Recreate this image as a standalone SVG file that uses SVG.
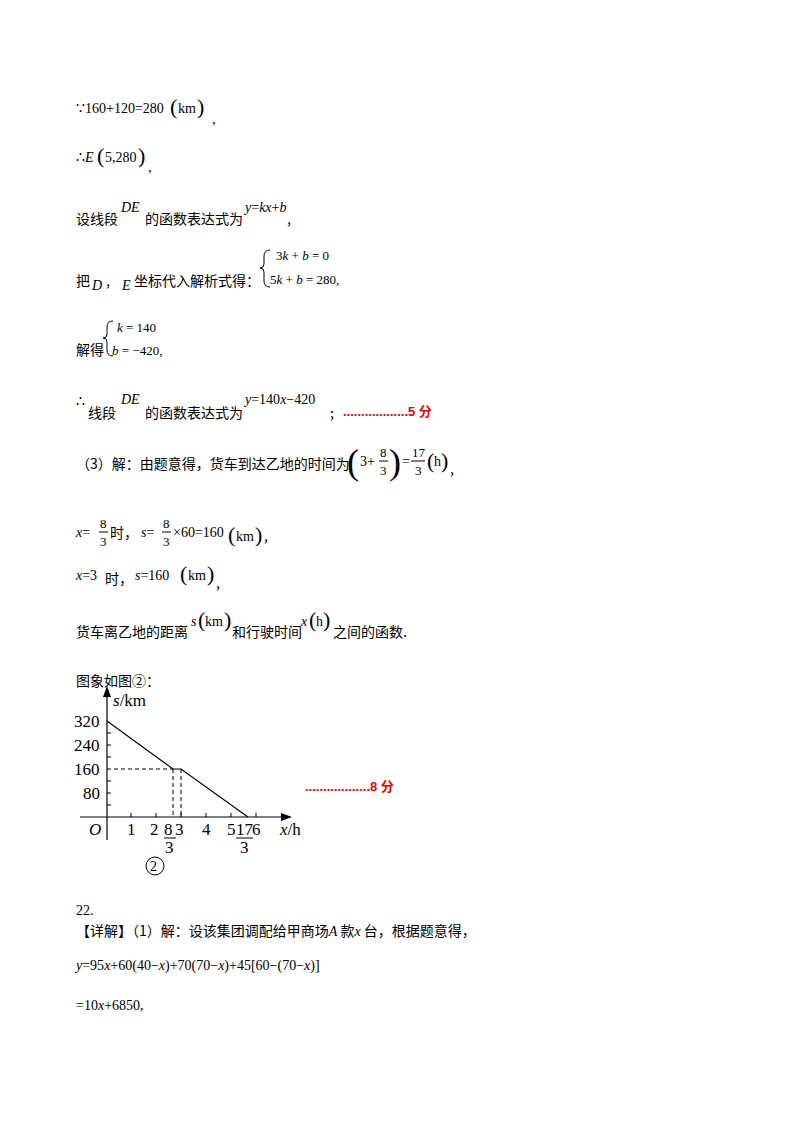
<svg xmlns="http://www.w3.org/2000/svg" width="800" height="1132" viewBox="0 0 800 1132">
<style>
.t{font-family:"Noto Sans CJK SC","Liberation Serif",serif;font-size:14px;fill:#000}
.m{font-family:"Liberation Serif",serif;font-size:14px;fill:#000}
.i{font-style:italic}
.s{font-family:"Liberation Serif",serif;font-size:13px;fill:#000}
.r{font-family:"Liberation Sans","Noto Sans CJK SC",sans-serif;font-size:13px;font-weight:bold;fill:#e00}
.g{font-family:"Liberation Serif",serif;font-size:17px;fill:#000}
.ln{stroke:#000;stroke-width:1.2;fill:none}
.d{stroke:#000;stroke-width:1;stroke-dasharray:4,3;fill:none}
.br{stroke:#000;stroke-width:1;fill:none}
.big{font-family:"Liberation Serif",serif;font-size:22px;fill:#000}
.huge{font-family:"Liberation Serif",serif;font-size:36px;fill:#000}
</style>
<rect width="800" height="1132" fill="#fff"/>
<text class="m" x="76" y="113">∵160+120=280</text><text class="big" x="170" y="114">(</text><text class="m" x="178" y="113">km</text><text class="big" x="197" y="114">)</text><text class="m" x="212" y="124">,</text>
<text class="m" x="76" y="162">∴<tspan class="i">E</tspan></text><text class="big" x="97" y="163">(</text><text class="m" x="105" y="162">5,280</text><text class="big" x="138" y="163">)</text><text class="m" x="148" y="172">,</text>
<text class="t" x="76" y="224">设线段</text><text class="m i" x="121" y="212">DE</text><text class="t" x="145" y="224">的函数表达式为</text><text class="m" x="245" y="212"><tspan class="i">y</tspan>=<tspan class="i">kx</tspan>+<tspan class="i">b</tspan></text><text class="t" x="287" y="224">,</text>
<text class="t" x="76" y="286">把</text><text class="m i" x="92" y="290">D</text><text class="t" x="106" y="286">,</text><text class="m i" x="122" y="290">E</text><text class="t" x="134" y="286">坐标代入解析式得：</text>
<path class="br" d="M270,250 Q264,250 264,256 L264,264 Q264,268 260,268 Q264,268 264,272 L264,281 Q264,287 270,287"/>
<text class="s" x="276" y="260">3<tspan class="i">k</tspan> + <tspan class="i">b</tspan> = 0</text>
<text class="s" x="270" y="284">5<tspan class="i">k</tspan> + <tspan class="i">b</tspan> = 280,</text>
<path class="br" d="M113,321 Q107,321 107,327 L107,334 Q107,338 103,338 Q107,338 107,342 L107,350 Q107,356 113,356"/>
<text class="s" x="117" y="332"><tspan class="i">k</tspan> = 140</text>
<text class="t" x="76" y="355">解得</text><text class="s" x="112" y="355"><tspan class="i">b</tspan> = −420,</text>
<text class="m" x="76" y="406">∴</text><text class="t" x="88" y="418">线段</text><text class="m i" x="121" y="404">DE</text><text class="t" x="145" y="418">的函数表达式为</text><text class="m" x="245" y="404"><tspan class="i">y</tspan>=140<tspan class="i">x</tspan>−420</text><text class="t" x="330" y="418">;</text><text class="r" x="343" y="416">..................5 分</text>
<text class="t" x="76" y="469">（3）解：由题意得，货车到达乙地的时间为</text>
<text class="huge" x="347" y="474">(</text>
<text class="m" x="360" y="466">3+</text><text class="s" x="380" y="457">8</text><line x1="379" y1="461" x2="388" y2="461" stroke="#000"/><text class="s" x="380" y="475">3</text>
<text class="huge" x="389" y="474">)</text><text class="m" x="402" y="466">=</text><text class="s" x="412" y="457">17</text><line x1="411" y1="461" x2="425" y2="461" stroke="#000"/><text class="s" x="415" y="475">3</text><text class="big" x="427" y="468">(</text><text class="m" x="434" y="466">h</text><text class="big" x="441" y="468">)</text><text class="t" x="450" y="474">,</text>
<text class="m" x="76" y="537"><tspan class="i">x</tspan>=</text><text class="s" x="100" y="528">8</text><line x1="99" y1="532" x2="108" y2="532" stroke="#000"/><text class="s" x="100" y="546">3</text><text class="t" x="110" y="538">时，</text>
<text class="m" x="141" y="537"><tspan class="i">s</tspan>=</text><text class="s" x="163" y="528">8</text><line x1="162" y1="532" x2="171" y2="532" stroke="#000"/><text class="s" x="163" y="546">3</text><text class="m" x="173" y="537">×60=160</text><text class="big" x="228" y="542">(</text><text class="m" x="236" y="541">km</text><text class="big" x="255" y="542">)</text><text class="t" x="264" y="541">,</text>
<text class="m" x="76" y="580"><tspan class="i">x</tspan>=3</text><text class="t" x="105" y="584">时，</text><text class="m" x="135" y="580"><tspan class="i">s</tspan>=160</text><text class="big" x="180" y="581">(</text><text class="m" x="188" y="580">km</text><text class="big" x="207" y="581">)</text><text class="t" x="216" y="588">,</text>
<text class="t" x="76" y="637">货车离乙地的距离</text><text class="m i" x="191" y="626">s</text><text class="big" x="198" y="627">(</text><text class="m" x="205" y="626">km</text><text class="big" x="224" y="627">)</text><text class="t" x="232" y="637">和行驶时间</text><text class="m i" x="301" y="626">x</text><text class="big" x="309" y="627">(</text><text class="m" x="316" y="626">h</text><text class="big" x="323" y="627">)</text><text class="t" x="333" y="637">之间的函数.</text>
<text class="t" x="76" y="686">图象如图②：</text>
<g id="graph">
<line class="ln" x1="80" y1="817" x2="283" y2="817"/><polygon points="292,817 281,813 281,821" fill="#000"/>
<line class="ln" x1="107" y1="840" x2="107" y2="695"/><polygon points="107,686 103,697 111,697" fill="#000"/>
<g stroke="#000" stroke-width="1"><line x1="107" y1="733" x2="111" y2="733"/><line x1="107" y1="745" x2="111" y2="745"/><line x1="107" y1="757" x2="111" y2="757"/><line x1="107" y1="781" x2="111" y2="781"/><line x1="107" y1="793" x2="111" y2="793"/><line x1="107" y1="805" x2="111" y2="805"/>
<line x1="131" y1="817" x2="131" y2="813"/><line x1="156" y1="817" x2="156" y2="813"/><line x1="181" y1="817" x2="181" y2="813"/><line x1="206" y1="817" x2="206" y2="813"/><line x1="231" y1="817" x2="231" y2="813"/><line x1="256" y1="817" x2="256" y2="813"/></g>
<polyline class="ln" points="107,721 173,769 181,769 248,817"/>
<line class="d" x1="107" y1="769" x2="173" y2="769"/><line class="d" x1="173" y1="769" x2="173" y2="817"/><line class="d" x1="181" y1="769" x2="181" y2="817"/>
<text class="g" x="74" y="727">320</text><text class="g" x="74" y="751">240</text><text class="g" x="74" y="775">160</text><text class="g" x="83" y="799">80</text>
<text class="g" x="113" y="706"><tspan class="i">s</tspan>/km</text>
<text class="g i" x="89" y="835">O</text><text class="g" x="127" y="835">1</text><text class="g" x="150" y="835">2</text><text class="g" x="164" y="835">8</text><line x1="164" y1="838" x2="176" y2="838" stroke="#000"/><text class="g" x="165" y="853">3</text><text class="g" x="175" y="835">3</text><text class="g" x="202" y="835">4</text>
<text class="g" x="227" y="835">5</text><text class="g" x="236" y="835">17</text><line x1="236" y1="838" x2="253" y2="838" stroke="#000"/><text class="g" x="240" y="853">3</text><text class="g" x="252" y="835">6</text>
<text class="g" x="280" y="835"><tspan class="i">x</tspan>/h</text>
<circle cx="155" cy="866" r="9" fill="none" stroke="#000"/><text class="m" x="150" y="871">2</text>
</g>
<text class="r" x="305" y="791">..................8 分</text>
<text class="m" x="76" y="915">22.</text>
<text class="t" x="76" y="936">【详解】（1）解：设该集团调配给甲商场<tspan class="i" font-family="Liberation Serif">A</tspan> 款<tspan class="i" font-family="Liberation Serif">x</tspan> 台，根据题意得，</text>
<text class="m" x="76" y="970"><tspan class="i">y</tspan>=95<tspan class="i">x</tspan>+60(40−<tspan class="i">x</tspan>)+70(70−<tspan class="i">x</tspan>)+45[60−(70−<tspan class="i">x</tspan>)]</text>
<text class="m" x="76" y="1010">=10<tspan class="i">x</tspan>+6850,</text>
</svg>
